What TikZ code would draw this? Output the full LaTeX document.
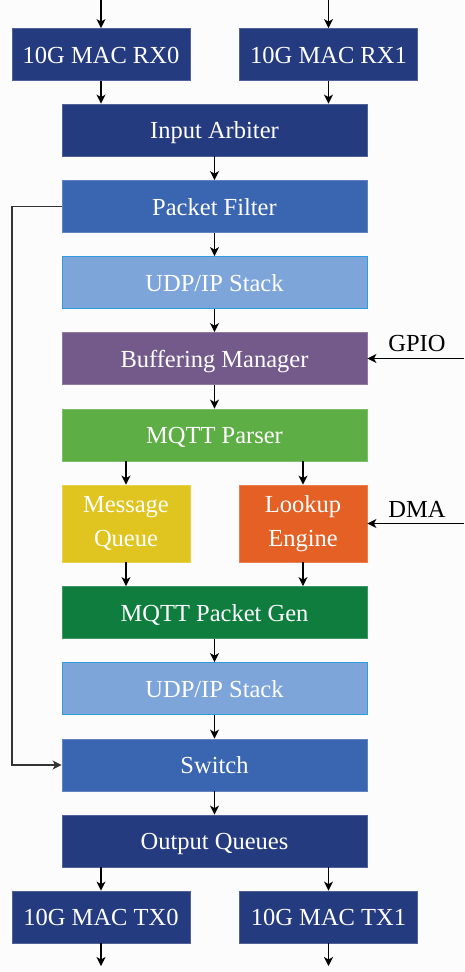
\documentclass[tikz,border=0pt]{standalone}
\usepackage{fontspec}
\setmainfont{Liberation Serif}
\usetikzlibrary{arrows.meta}
\definecolor{navy}{HTML}{253B80}
\definecolor{pfblue}{HTML}{3A65B0}
\definecolor{udpblue}{HTML}{7DA5DA}
\definecolor{udpb}{HTML}{2F9BE0}
\definecolor{bufpurple}{HTML}{735A8B}
\definecolor{parsergreen}{HTML}{5DAE45}
\definecolor{mqyellow}{HTML}{E0C520}
\definecolor{leorange}{HTML}{E46025}
\definecolor{gengreen}{HTML}{0E7D3E}
\definecolor{bg}{HTML}{FDFCFC}
\definecolor{linegray}{HTML}{333333}
\begin{document}
\begin{tikzpicture}[x=1pt,y=-1pt,
  blk/.style={draw=#1!80!white, line width=0.8pt, fill=#1, text=white, inner sep=0pt,
    font=\fontsize{24.5}{32}\selectfont, align=center},
  one/.style={text height=17pt, text depth=0pt},
  wide/.style={one, minimum width=305pt, minimum height=52pt},
  mac/.style={one, minimum width=178pt, minimum height=52pt},
  half/.style={minimum width=128pt, minimum height=77pt},
  arr/.style={-{Stealth[length=9pt,width=9pt,inset=2.5pt]}, line width=1.3pt, black},
  lbl/.style={font=\fontsize{24.5}{30}\selectfont, text=black, inner sep=0pt}]
\useasboundingbox (0,0) rectangle (464,972);
\fill[bg] (0,0) rectangle (464,972);

\node[blk=navy, mac] (rx0) at (101,54.5) {10G MAC RX0};
\node[blk=navy, mac] (rx1) at (328.5,54.5) {10G MAC RX1};
\node[blk=navy, wide] (arb) at (214.5,130) {Input Arbiter};
\node[blk=pfblue, wide] (pf) at (214.5,206.5) {Packet Filter};
\node[blk=udpblue, wide, draw=udpb] (udp1) at (214.5,282.5) {UDP/IP Stack};
\node[blk=bufpurple, wide] (buf) at (214.5,358.5) {Buffering Manager};
\node[blk=parsergreen, wide] (parser) at (214.5,435) {MQTT Parser};
\node[blk=mqyellow, half] (mq) at (126,523.5) {\raisebox{-2.5pt}{\begin{tabular}{@{}c@{}}Message\\[2pt]Queue\end{tabular}}};
\node[blk=leorange, half] (le) at (303,523.5) {\raisebox{-2.5pt}{\begin{tabular}{@{}c@{}}Lookup\\[2pt]Engine\end{tabular}}};
\node[blk=gengreen, wide] (gen) at (214.5,612.5) {MQTT Packet Gen};
\node[blk=udpblue, wide, draw=udpb] (udp2) at (214.5,688.5) {UDP/IP Stack};
\node[blk=pfblue, wide] (sw) at (214.5,765) {Switch};
\node[blk=navy, wide] (oq) at (214.5,841) {Output Queues};
\node[blk=navy, mac] (tx0) at (101,917) {10G MAC TX0};
\node[blk=navy, mac] (tx1) at (328.5,917) {10G MAC TX1};

\node[lbl] (gpio) at (417,344) {GPIO};
\node[lbl] (dma) at (417,509) {DMA};

\coordinate (in0) at (101,0);
\coordinate (in1) at (328.5,0);
\coordinate (out0) at (101,966);
\coordinate (out1) at (328.5,966);
\coordinate (gpioin) at (464,358.5);
\coordinate (dmain) at (464,523.5);
\coordinate (fbx) at (12,0);

\draw[arr] (in0) -- (rx0.north);
\draw[arr] (in1) -- (rx1.north);
\draw[arr] (rx0.south) -- (rx0.south |- arb.north);
\draw[arr] (rx1.south) -- (rx1.south |- arb.north);
\draw[arr] (arb) -- (pf);
\draw[arr] (pf) -- (udp1);
\draw[arr] (udp1) -- (buf);
\draw[arr] (buf) -- (parser);
\draw[arr] (mq.north |- parser.south) -- (mq.north);
\draw[arr] (le.north |- parser.south) -- (le.north);
\draw[arr] (mq.south) -- (mq.south |- gen.north);
\draw[arr] (le.south) -- (le.south |- gen.north);
\draw[arr] (gen) -- (udp2);
\draw[arr] (udp2) -- (sw);
\draw[arr] (sw) -- (oq);
\draw[arr] (tx0.north |- oq.south) -- (tx0.north);
\draw[arr] (tx1.north |- oq.south) -- (tx1.north);
\draw[arr] (tx0.south) -- (out0);
\draw[arr] (tx1.south) -- (out1);
\draw[arr] (gpioin) -- (buf.east);
\draw[arr] (dmain) -- (le.east);
\draw[arr, draw=linegray] (pf.west) -- (fbx |- pf.west) -- (fbx |- sw.west) -- (sw.west);
\end{tikzpicture}
\end{document}
